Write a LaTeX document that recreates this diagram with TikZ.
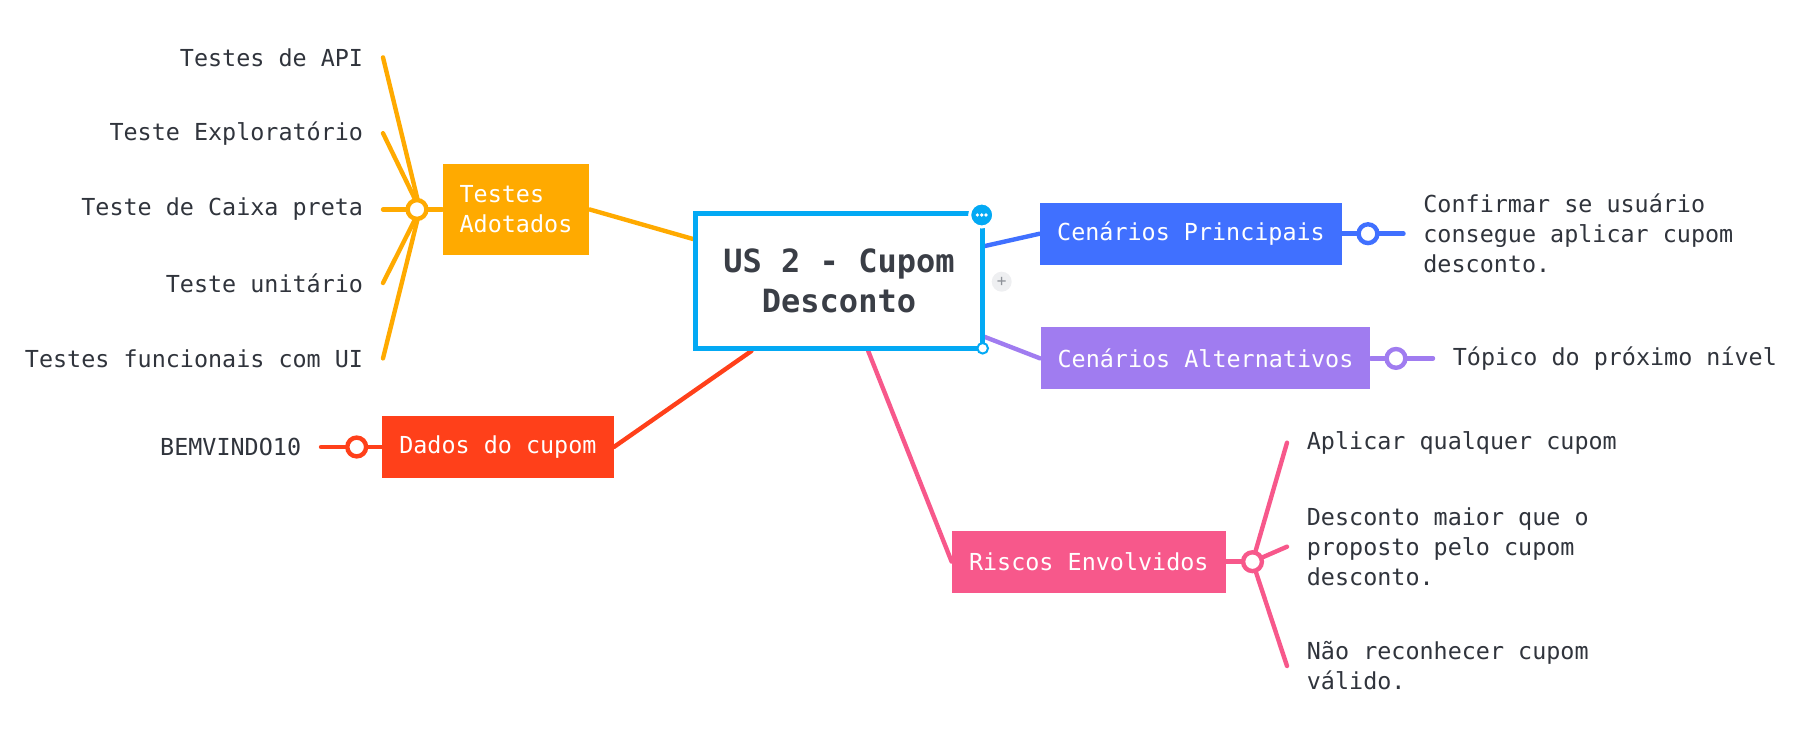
\documentclass[tikz,border=0pt]{standalone}
\usepackage{fontspec}
\setmainfont{DejaVu Sans Mono}
\usetikzlibrary{calc,backgrounds}
\definecolor{hubblue}{HTML}{03A9F4}
\definecolor{adotorange}{HTML}{FFAA00}
\definecolor{princblue}{HTML}{4070FF}
\definecolor{altpurple}{HTML}{A07CF0}
\definecolor{riscpink}{HTML}{F7588B}
\definecolor{dadosred}{HTML}{FF401A}
\definecolor{inktext}{HTML}{30343C}
\definecolor{titlegray}{HTML}{3A3E46}
\definecolor{plusgray}{HTML}{EEEFF1}
\definecolor{plustext}{HTML}{8E9299}
\tikzset{
  topic/.style={text=white, inner xsep=8.5pt, inner ysep=0pt, minimum height=31pt},
  leaf/.style={text=inktext, inner xsep=9.75pt, inner ysep=0pt, align=left},
  junction/.style={circle, draw=#1, fill=white, line width=2.2pt, minimum size=9.4pt, inner sep=0pt},
  link/.style={draw=#1, line width=2.2pt, line cap=round},
}
\begin{document}
\begin{tikzpicture}[x=0.5pt,y=-0.5pt,font=\fontsize{11.7}{15}\selectfont]
  \useasboundingbox (0,0) rectangle (1801,737);
  % central topic
  \node[draw=hubblue, line width=2.35pt, fill=white, minimum width=143.7pt, minimum height=67.7pt,
    align=center, text=titlegray, font=\bfseries\fontsize{16}{20}\selectfont] (hub) at (839,281) {US 2 - Cupom\\Desconto};
  \node[circle, fill=hubblue, draw=white, line width=1.5pt, minimum size=12pt, inner sep=0pt] (more) at (981.7,215) {};
  \foreach \dx in {-4.3,0,4.3}
    \fill[white] ([xshift=\dx*0.5pt]more.center) circle (0.9pt);
  \node[circle, fill=white, draw=hubblue, line width=1pt, minimum size=5.3pt, inner sep=0pt] (resize) at (982.7,348.3) {};
  \node[circle, fill=plusgray, minimum size=10pt, inner sep=0pt, text=plustext, font=\fontsize{8}{8}\selectfont] (plus) at (1001.7,281.7) {+};
  % main topics
  \node[topic, fill=adotorange, align=left, minimum width=73pt, minimum height=45.5pt] (adot) at (516,209.5) {Testes\\Adotados};
  \node[topic, fill=princblue] (princ) at (1191,233.7) {Cenários Principais};
  \node[topic, fill=altpurple] (alt) at (1205.5,358.4) {Cenários Alternativos};
  \node[topic, fill=riscpink] (risc) at (1088.8,561.7) {Riscos Envolvidos};
  \node[topic, fill=dadosred] (dados) at (497.9,447) {Dados do cupom};
  % junctions
  \node[junction=adotorange] (jAdot) at (417,209.5) {};
  \node[junction=princblue] (jPrinc) at (1368,233.7) {};
  \node[junction=altpurple] (jAlt) at (1396,358.4) {};
  \node[junction=riscpink] (jRisc) at (1252.5,561.7) {};
  \node[junction=dadosred] (jDados) at (356.7,447) {};
  % subtopics
  \foreach \name/\y/\txt in {api/57.4/Testes de API, expl/133.2/Teste Exploratório,
      caixa/209.5/Teste de Caixa preta, unit/283/Teste unitário, func/358.4/Testes funcionais com UI}
    \node[leaf, anchor=east] (\name) at (383,\y) {\txt};
  \node[leaf, anchor=east] (bem) at (321,447) {BEMVINDO10};
  \node[leaf, anchor=west] (confirm) at (1403.5,233.7) {Confirmar se usuário\\consegue aplicar cupom\\desconto.};
  \node[leaf, anchor=west] (topico) at (1433,358.4) {Tópico do próximo nível};
  \node[leaf, anchor=west] (qualquer) at (1287,442.7) {Aplicar qualquer cupom};
  \node[leaf, anchor=west] (maior) at (1287,546.7) {Desconto maior que o\\proposto pelo cupom\\desconto.};
  \node[leaf, anchor=west] (invalido) at (1287,666) {Não reconhecer cupom\\válido.};
  % connectors
  \begin{scope}[on background layer]
    \draw[link=adotorange] (adot.east) -- ($(hub.north west)!0.2!(hub.south west)$);
    \draw[link=princblue] ($(hub.north east)!0.25!(hub.south east)$) -- (princ.west);
    \draw[link=altpurple] ($(hub.north east)!0.9!(hub.south east)$) -- (alt.west);
    \draw[link=riscpink] ($(hub.south west)!0.6!(hub.south east)$) -- (risc.west);
    \draw[link=dadosred] (dados.east) -- ($(hub.south west)!0.2!(hub.south east)$);
    \draw[link=adotorange] (adot.west) -- (jAdot.center);
    \foreach \name in {api,expl,caixa,unit,func}
      \draw[link=adotorange] (\name.east) -- ([xshift=1.5pt]jAdot.center);
    \draw[link=princblue] (princ.east) -- (jPrinc.center) -- (confirm.west);
    \draw[link=altpurple] (alt.east) -- (jAlt.center) -- (topico.west);
    \draw[link=riscpink] (risc.east) -- (jRisc.center);
    \foreach \name in {qualquer,maior,invalido}
      \draw[link=riscpink] (jRisc.center) -- (\name.west);
    \draw[link=dadosred] (dados.west) -- (jDados.center) -- (bem.east);
  \end{scope}
\end{tikzpicture}
\end{document}
